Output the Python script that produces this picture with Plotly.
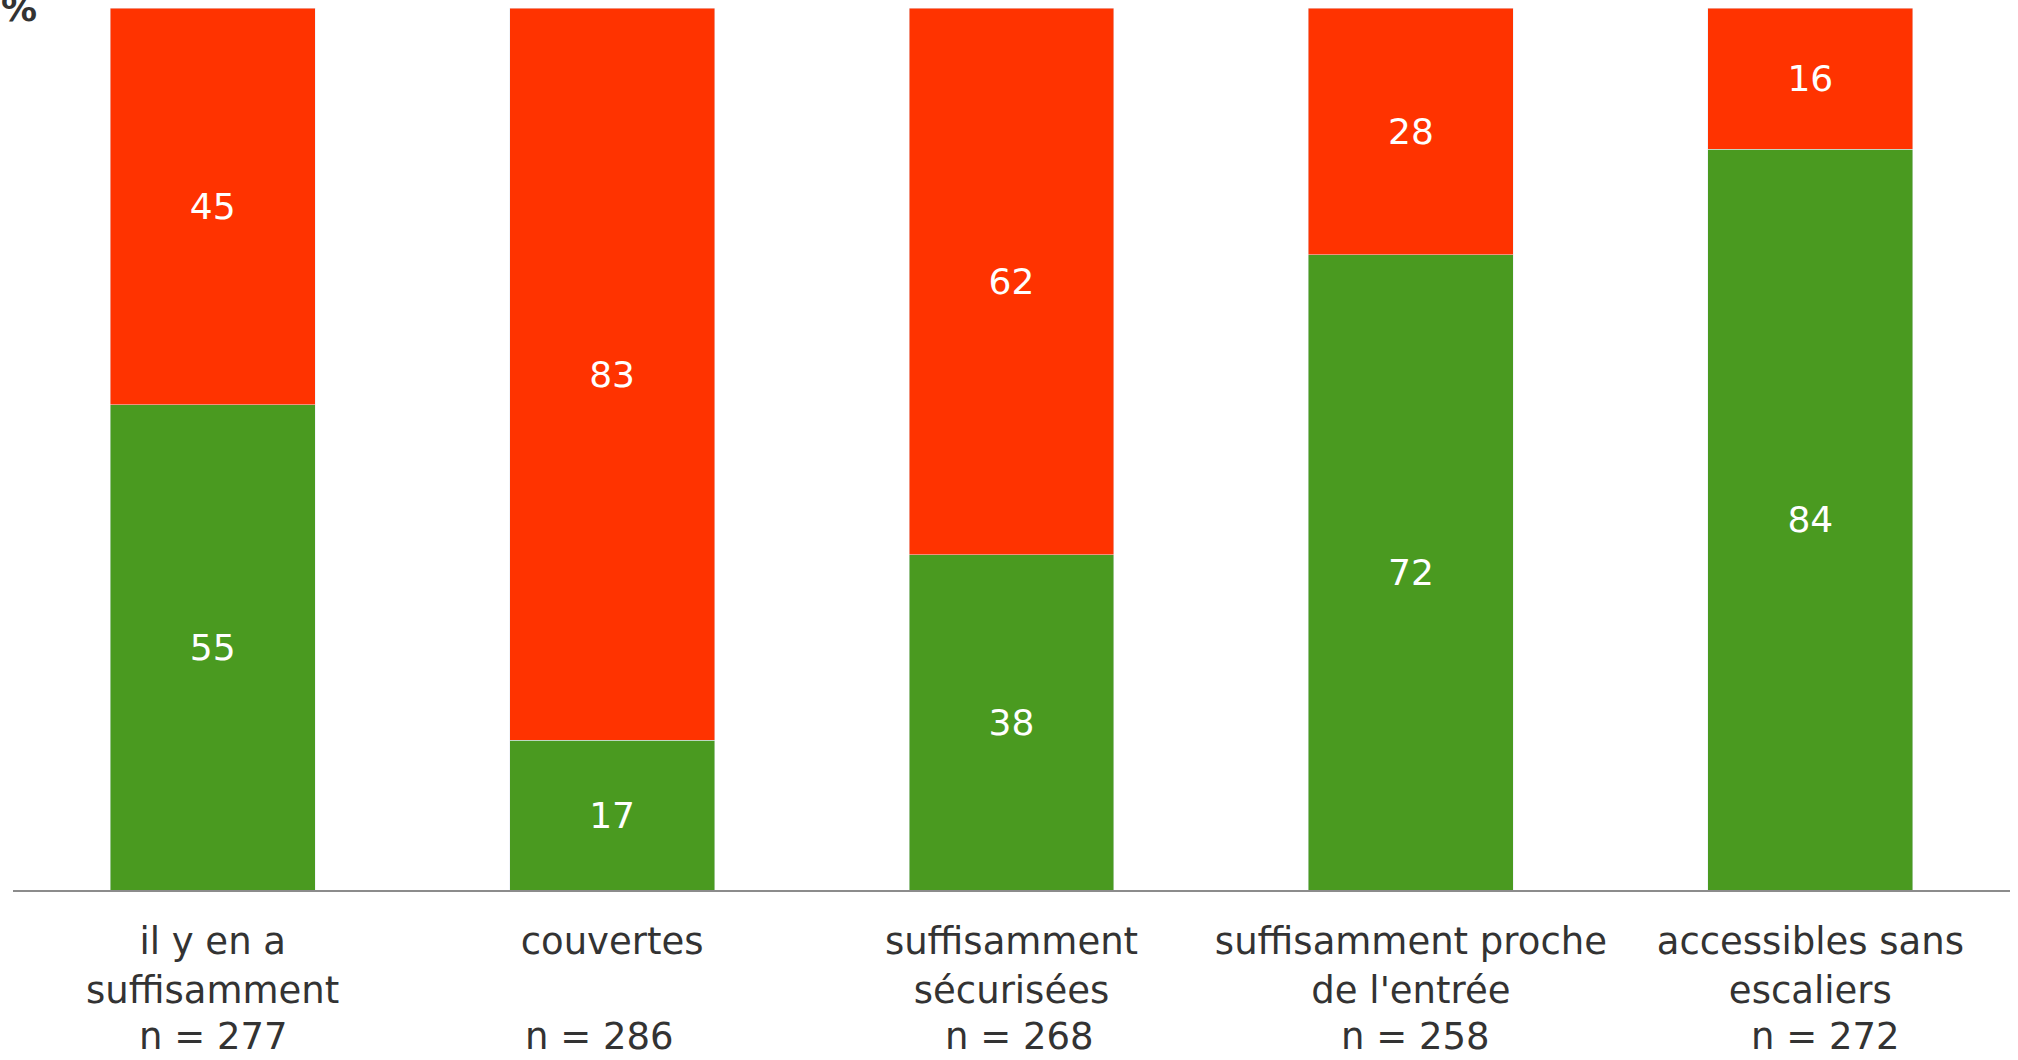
import plotly.graph_objects as go

categories = ["il y en a<br>suffisamment", "couvertes", "suffisamment<br>sécurisées",
              "suffisamment proche<br>de l'entrée", "accessibles sans<br>escaliers"]
n_labels = ["n = 277", "n = 286", "n = 268", "n = 258", "n = 272"]
oui_values = [55, 17, 38, 72, 84]
non_values = [45, 83, 62, 28, 16]

GREEN = "#4a9a20"
RED = "#ff3300"
TEXT = "#333333"
FONT = "DejaVu Sans, Verdana, sans-serif"
n_xshift = [1, -13, 8, 5, 15]

fig = go.Figure()
fig.add_trace(go.Bar(x=categories, y=oui_values, name="oui", marker_color=GREEN,
                     text=oui_values, textposition="inside", insidetextanchor="middle",
                     textfont=dict(color="white", size=36, family=FONT), showlegend=False))
fig.add_trace(go.Bar(x=categories, y=non_values, name="non", marker_color=RED,
                     text=non_values, textposition="inside", insidetextanchor="middle",
                     textfont=dict(color="white", size=36, family=FONT), showlegend=False))

W, H = 2018, 1060
ml, mr, mt, mb = 13, 8, 8, 170
plot_h = H - mt - mb

annotations = []
for cat, nl, xs in zip(categories, n_labels, n_xshift):
    annotations.append(dict(x=cat, xref="x", y=-(mb - 1) / plot_h, yref="paper",
                            text=nl, showarrow=False, yanchor="bottom", xanchor="center",
                            xshift=xs, borderpad=0,
                            font=dict(size=37, color=TEXT, family=FONT)))
annotations.append(dict(x=0, xref="paper", y=1, yref="paper", text="<b>%</b>",
                        showarrow=False, xanchor="center", yanchor="middle", xshift=6,
                        font=dict(size=36, color=TEXT, family=FONT)))

fig.update_layout(
    barmode="stack",
    bargap=0.487,
    width=W, height=H,
    margin=dict(l=ml, r=mr, t=mt, b=mb, pad=0),
    plot_bgcolor="white", paper_bgcolor="white",
    font=dict(family=FONT, color=TEXT, size=36),
    uniformtext=dict(minsize=36, mode="show"),
    annotations=annotations,
)
fig.update_xaxes(showline=True, linecolor="#8c8c8c", linewidth=2, ticks="",
                 tickfont=dict(size=37, color=TEXT, family=FONT),
                 ticklabelstandoff=18, showgrid=False)
fig.update_yaxes(range=[0, 100], visible=False, showgrid=False)

fig.write_html("out.html", config={"displayModeBar": False},
               post_script="document.body.style.margin='0';")
